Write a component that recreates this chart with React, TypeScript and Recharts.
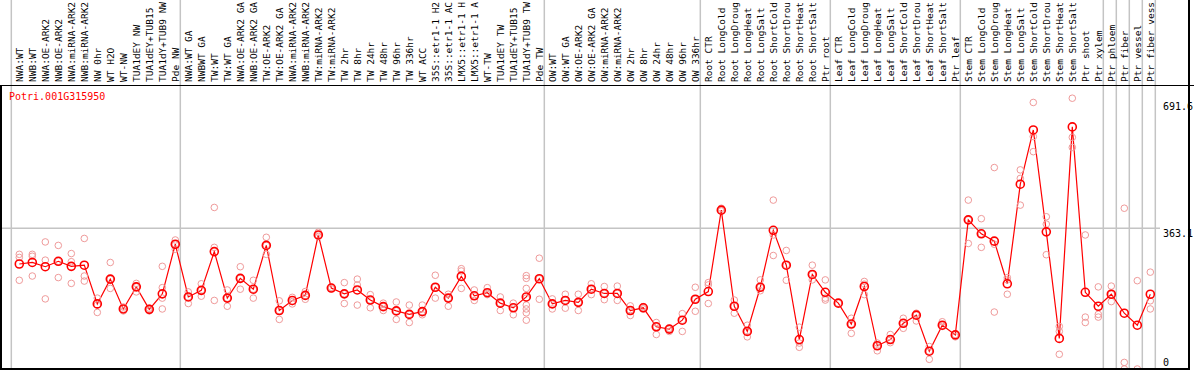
import React from 'react';
import { ComposedChart, Line, Scatter, XAxis, YAxis, ReferenceLine } from 'recharts';

const title = 'Potri.001G315950';

const labels = [
  'NWA:WT', 'NWB:WT', 'NWA:OE-ARK2', 'NWB:OE-ARK2', 'NWA:miRNA-ARK2', 'NWB:miRNA-ARK2',
  'NW 0hr', 'WT H2O', 'WT-NW', 'TUA1dEY NW', 'TUA1dEY+TUB15', 'TUA1dY+TUB9 NW', 'Pde NW',
  'NWA:WT GA', 'NWBWT GA', 'TW:WT', 'TW:WT GA', 'NWA:OE-ARK2 GA', 'NWB:OE-ARK2 GA',
  'TW:OE-ARK2', 'TW:OE-ARK2 GA', 'NWA:miRNA-ARK2', 'NWB:miRNA-ARK2', 'TW:miRNA-ARK2',
  'TW:miRNA-ARK2', 'TW 2hr', 'TW 8hr', 'TW 24hr', 'TW 48hr', 'TW 96hr', 'TW 336hr',
  'WT ACC', '35S::etr1-1 H2', '35S::etr1-1 AC', 'LMX5::etr1-1 H', 'LMX5::etr1-1 A',
  'WT-TW', 'TUA1dEY TW', 'TUA1dEY+TUB15', 'TUA1dY+TUB9 TW', 'Pde TW',
  'OW:WT', 'OW:WT GA', 'OW:OE-ARK2', 'OW:OE-ARK2 GA', 'OW:miRNA-ARK2', 'OW:miRNA-ARK2',
  'OW 2hr', 'OW 8hr', 'OW 24hr', 'OW 48hr', 'OW 96hr', 'OW 336hr',
  'Root CTR', 'Root LongCold', 'Root LongDroug', 'Root LongHeat', 'Root LongSalt',
  'Root ShortCold', 'Root ShortDrou', 'Root ShortHeat', 'Root ShortSalt', 'Ptr root',
  'Leaf CTR', 'Leaf LongCold', 'Leaf LongDroug', 'Leaf LongHeat', 'Leaf LongSalt',
  'Leaf ShortCold', 'Leaf ShortDrou', 'Leaf ShortHeat', 'Leaf ShortSalt', 'Ptr leaf',
  'Stem CTR', 'Stem LongCold', 'Stem LongDroug', 'Stem LongHeat', 'Stem LongSalt',
  'Stem ShortCold', 'Stem ShortDrou', 'Stem ShortHeat', 'Stem ShortSalt', 'Ptr shoot',
  'Ptr xylem', 'Ptr phloem', 'Ptr fiber', 'Ptr vessel', 'Ptr fiber vess',
];

// mean expression per sample (the red line)
const means = [
  271, 275, 264, 278, 265, 268, 168, 232, 155, 212, 154, 194, 322,
  186, 203, 303, 183, 234, 206, 319, 151, 177, 190, 346, 209, 194, 204, 178, 161, 150, 141, 148,
  211, 183, 239, 189, 197, 170, 158, 186, 233,
  168, 177, 172, 206, 195, 195, 151, 158, 109, 103, 126, 180,
  200, 410, 162, 97, 211, 358, 268, 76, 244, 198,
  170, 116, 213, 60, 76, 118, 139, 46, 113, 88,
  385, 349, 330, 220, 477, 617, 354, 79, 625, 198, 162,
  193, 144, 113, 193,
];

// individual replicates (pale circles)
const replicates = [
  [296, 288, 229], [296, 291, 240], [328, 281, 181], [319, 278, 236], [298, 277, 221],
  [337, 240, 227], [183, 165, 146], [275, 232, 208], [160, 155, 150], [221, 212, 199],
  [157, 154, 150], [265, 210, 183, 155], [333, 322, 309],
  [199, 186, 169], [220, 203, 188], [417, 314, 177], [204, 183, 162], [264, 234, 206],
  [229, 206, 183], [340, 319, 296], [176, 151, 128], [185, 174, 168], [200, 190, 180],
  [353, 346, 342], [211, 209, 207], [223, 194, 169], [232, 217, 165], [192, 178, 158],
  [170, 161, 151], [173, 150, 128], [165, 141, 120], [165, 148, 140], [242, 211, 183],
  [193, 183, 162], [259, 253, 208], [204, 189, 177], [210, 197, 192], [186, 170, 151],
  [170, 158, 140], [241, 234, 208, 183, 165, 155, 145, 126], [286, 233, 180],
  [181, 168, 155], [193, 177, 157], [193, 172, 151], [220, 206, 192], [213, 195, 179],
  [214, 195, 177], [163, 151, 138], [161, 158, 155], [120, 109, 89], [105, 103, 97],
  [143, 126, 97], [211, 180, 149],
  [223, 217, 169], [415, 410, 408], [178, 162, 144], [113, 97, 83], [230, 211, 202],
  [436, 346, 293], [306, 268, 229], [108, 67, 56], [268, 244, 230], [230, 183, 178],
  [170], [131, 116, 92], [226, 219, 192], [67, 60, 47], [89, 76, 68], [131, 118, 105],
  [144, 139, 124], [58, 46, 25], [122, 113, 110], [89, 88, 83],
  [436, 385, 324], [388, 349, 314], [520, 322, 147], [236, 230, 193], [514, 492, 423],
  [688, 600, 561], [393, 374, 295], [110, 97, 38], [699, 598, 572], [346, 134, 120],
  [212, 141, 134], [214, 193, 174], [415, 17, 0], [228, 0], [250, 176, 155],
];

// first sample of each group; a separator sits just before it
const groupStarts = [0, 13, 41, 53, 63, 73, 84, 85, 86, 87, 88];
const yTicks = [0, 363.1, 691.6];

const rows = labels.map((label, i) => ({ idx: i, label, mean: means[i] }));
const reps = replicates.flatMap((vals, i) => vals.map((v) => ({ idx: i, value: v })));

const mono = 'DejaVu Sans Mono';
const grid = '#c4c4c4';

function TopTick(props: any) {
  const { x, y, payload } = props;
  return (
    <text
      transform={`translate(${x},${y}) rotate(-90)`}
      dy="0.35em"
      textAnchor="start"
      fontFamily={mono}
      fontSize={9.5}
      fill="#000"
    >
      {labels[payload.value]}
    </text>
  );
}

function RightTick(props: any) {
  const { x, y, payload } = props;
  const top = Math.min(y + 1, 358);
  return (
    <text x={x} y={top} dy="0.75em" textAnchor="start" fontFamily={mono} fontSize={10} fill="#000">
      {payload.value}
    </text>
  );
}

function RepDot(props: any) {
  return <circle cx={props.cx} cy={props.cy} r={3.3} fill="none" stroke="#ef9a9a" strokeWidth={1} />;
}

export default function App() {
  return (
    <div style={{ position: 'absolute', left: 0, top: 0, width: 1194, height: 370, background: '#fff', overflow: 'hidden' }}>
      <ComposedChart width={1194} height={370} data={rows} margin={{ top: 0, right: 0, bottom: 1, left: 2 }}>
        <XAxis
          xAxisId={0}
          type="number"
          dataKey="idx"
          orientation="top"
          height={85}
          domain={[-1.3308, 87.746]}
          allowDataOverflow
          ticks={labels.map((_, i) => i)}
          interval={0}
          tick={<TopTick />}
          tickLine={false}
          axisLine={false}
          tickSize={0}
          tickMargin={3}
        />
        <YAxis
          yAxisId={0}
          orientation="right"
          width={34}
          domain={[0, 733.1]}
          allowDataOverflow
          ticks={yTicks}
          interval={0}
          tick={<RightTick />}
          tickLine={false}
          axisLine={false}
          tickSize={0}
          tickMargin={3}
        />
        <ReferenceLine y={363.1} stroke={grid} strokeWidth={1.5} />
        {groupStarts.map((k) => (
          <ReferenceLine
            key={k}
            ifOverflow="visible"
            stroke={grid}
            strokeWidth={1.5}
            segment={[{ x: k - 0.615, y: 0 }, { x: k - 0.615, y: 960 }]}
          />
        ))}
        <Scatter data={reps} dataKey="value" shape={<RepDot />} isAnimationActive={false} />
        <Line
          dataKey="mean"
          stroke="#ff0000"
          strokeWidth={1.2}
          dot={{ r: 4, stroke: '#ff0000', strokeWidth: 1.6, fill: 'none' }}
          activeDot={false}
          isAnimationActive={false}
        />
      </ComposedChart>
      {/* frame */}
      <div style={{ position: 'absolute', left: 0, top: 85, width: 1194, height: 1, background: '#000' }} />
      <div style={{ position: 'absolute', left: 0, top: 85, width: 2, height: 285, background: '#000' }} />
      <div style={{ position: 'absolute', left: 0, top: 368, width: 1190, height: 2, background: '#000' }} />
      <div style={{ position: 'absolute', left: 1188, top: 0, width: 2, height: 370, background: '#000' }} />
      <div
        style={{
          position: 'absolute',
          left: 9,
          top: 91,
          fontFamily: mono,
          fontSize: 10,
          lineHeight: '12px',
          color: '#ff0000',
        }}
      >
        {title}
      </div>
    </div>
  );
}
